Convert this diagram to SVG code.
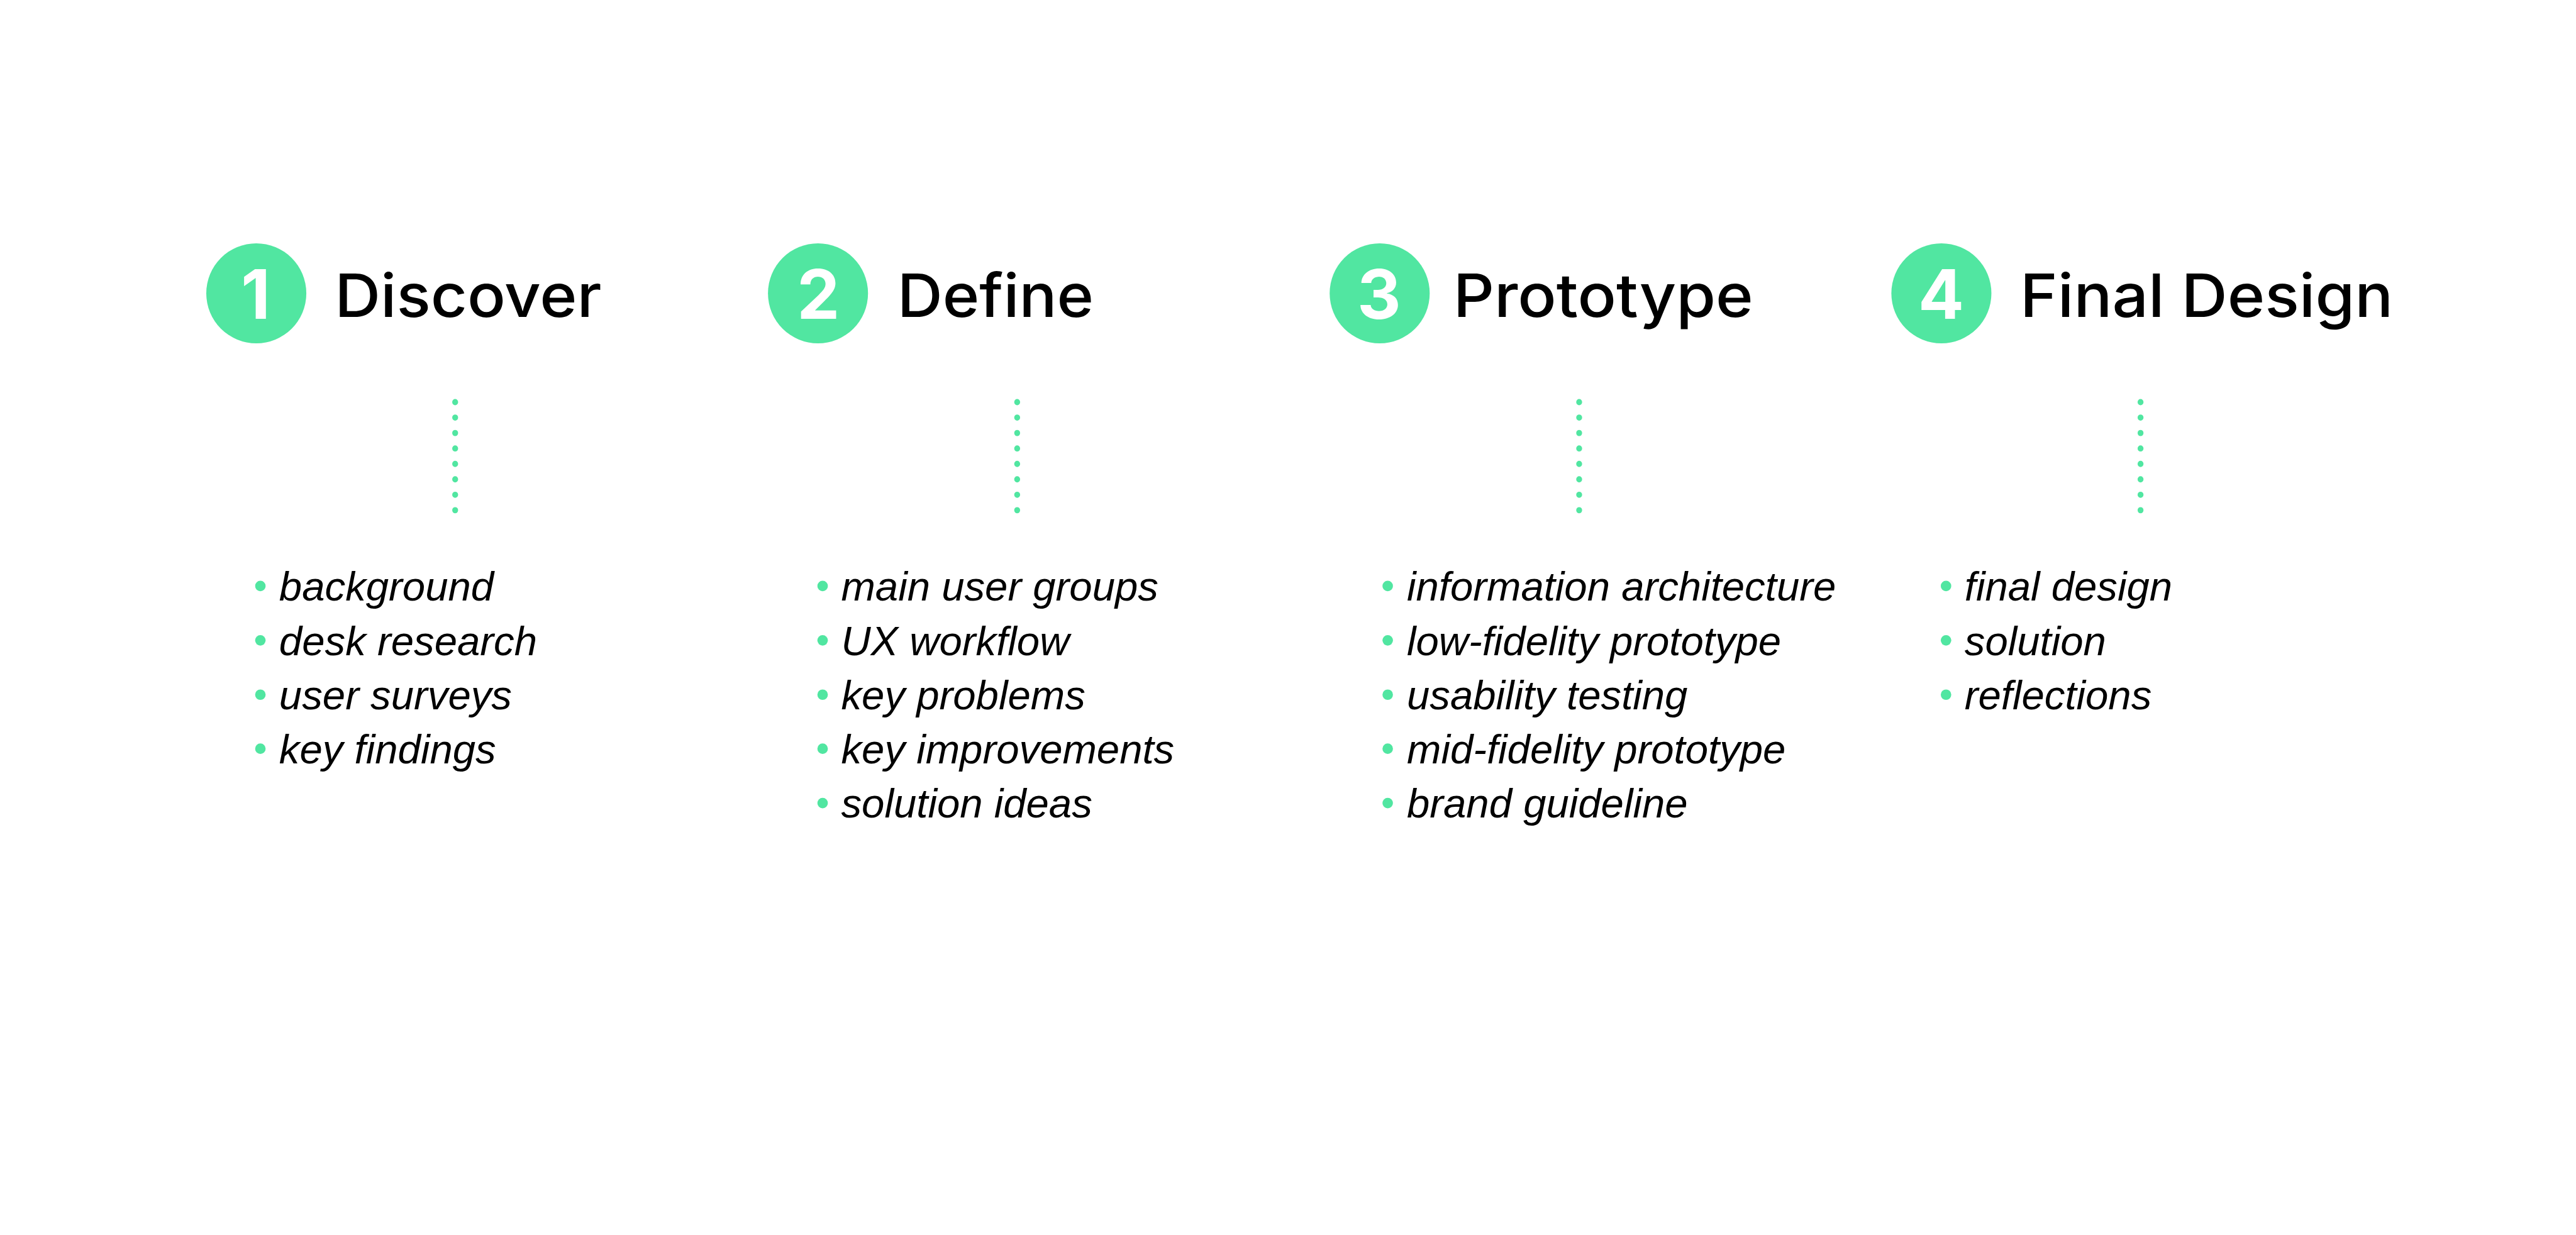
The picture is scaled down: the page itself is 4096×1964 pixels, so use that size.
<svg xmlns="http://www.w3.org/2000/svg" width="4096" height="1964" viewBox="0 0 4096 1964">
<style>
.circ{fill:#51E6A1}
.num{font-family:Inter,"Liberation Sans",sans-serif;font-weight:700;font-size:110px;fill:#fff;text-anchor:middle}
.title{font-family:Inter,"Liberation Sans",sans-serif;font-weight:500;font-size:97px;fill:#000}
.item{font-family:"Liberation Sans",Arial,sans-serif;font-style:italic;font-size:66.5px;fill:#000}
.dot{fill:#51E6A1}
.dots{stroke:#51E6A1;stroke-width:9.5;stroke-linecap:round;stroke-dasharray:0.5 24.5;fill:none}
</style>
<rect width="4096" height="1964" fill="#fff"/>
<g transform="scale(0.982)">
<g id="connectors">
<line class="dots" x1="737" y1="651" x2="737" y2="827"/>
<line class="dots" x1="1647" y1="651" x2="1647" y2="827"/>
<line class="dots" x1="2557" y1="651" x2="2557" y2="827"/>
<line class="dots" x1="3466" y1="651" x2="3466" y2="827"/>
</g>
<g id="step1">
<circle class="circ" cx="415" cy="475" r="81"/>
<text class="num" x="414" y="516">1</text>
<text class="title" x="542" y="513" textLength="432" lengthAdjust="spacingAndGlyphs">Discover</text>
</g>
<g id="step2">
<circle class="circ" cx="1324.5" cy="475" r="81"/>
<text class="num" x="1325" y="516">2</text>
<text class="title" x="1453" y="513" textLength="318" lengthAdjust="spacingAndGlyphs">Define</text>
</g>
<g id="step3">
<circle class="circ" cx="2234" cy="475" r="81"/>
<text class="num" x="2233" y="516">3</text>
<text class="title" x="2353" y="513" textLength="486" lengthAdjust="spacingAndGlyphs">Prototype</text>
</g>
<g id="step4">
<circle class="circ" cx="3143.5" cy="475" r="81"/>
<text class="num" x="3143" y="516">4</text>
<text class="title" x="3271" y="513" textLength="604" lengthAdjust="spacingAndGlyphs">Final Design</text>
</g>
<g id="list1">
<circle class="dot" cx="421.6" cy="949" r="8.5"/>
<circle class="dot" cx="421.6" cy="1037" r="8.5"/>
<circle class="dot" cx="421.6" cy="1125" r="8.5"/>
<circle class="dot" cx="421.6" cy="1212.5" r="8.5"/>
<text class="item" x="452" y="973">background</text>
<text class="item" x="452" y="1061">desk research</text>
<text class="item" x="452" y="1149">user surveys</text>
<text class="item" x="452" y="1236.5">key findings</text>
</g>
<g id="list2">
<circle class="dot" cx="1332" cy="949" r="8.5"/>
<circle class="dot" cx="1332" cy="1037" r="8.5"/>
<circle class="dot" cx="1332" cy="1125" r="8.5"/>
<circle class="dot" cx="1332" cy="1212.5" r="8.5"/>
<circle class="dot" cx="1332" cy="1300.5" r="8.5"/>
<text class="item" x="1362" y="973">main user groups</text>
<text class="item" x="1362" y="1061">UX workflow</text>
<text class="item" x="1362" y="1149">key problems</text>
<text class="item" x="1362" y="1236.5">key improvements</text>
<text class="item" x="1362" y="1324">solution ideas</text>
</g>
<g id="list3">
<circle class="dot" cx="2247" cy="949" r="8.5"/>
<circle class="dot" cx="2247" cy="1037" r="8.5"/>
<circle class="dot" cx="2247" cy="1125" r="8.5"/>
<circle class="dot" cx="2247" cy="1212.5" r="8.5"/>
<circle class="dot" cx="2247" cy="1300.5" r="8.5"/>
<text class="item" x="2278" y="973">information architecture</text>
<text class="item" x="2278" y="1061">low-fidelity prototype</text>
<text class="item" x="2278" y="1149">usability testing</text>
<text class="item" x="2278" y="1236.5">mid-fidelity prototype</text>
<text class="item" x="2278" y="1324">brand guideline</text>
</g>
<g id="list4">
<circle class="dot" cx="3151" cy="949" r="8.5"/>
<circle class="dot" cx="3151" cy="1037" r="8.5"/>
<circle class="dot" cx="3151" cy="1125" r="8.5"/>
<text class="item" x="3181" y="973">final design</text>
<text class="item" x="3181" y="1061">solution</text>
<text class="item" x="3181" y="1149">reflections</text>
</g>
</g>
</svg>
